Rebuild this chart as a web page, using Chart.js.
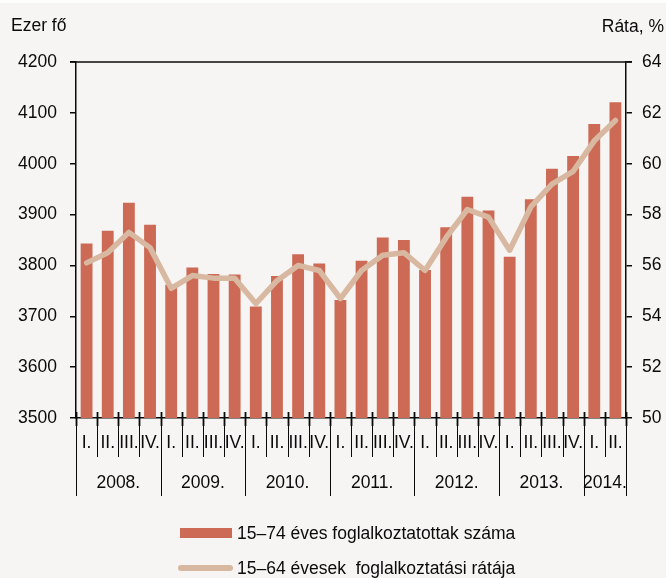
<!DOCTYPE html>
<html>
<head>
<meta charset="utf-8">
<script src="https://cdn.jsdelivr.net/npm/chart.js@4"></script>
<style>
  html, body { margin: 0; padding: 0; background: #f6f5f3; }
  #wrap { position: relative; width: 666px; height: 578px; overflow: hidden; }
  #topband { position: absolute; left: 0; top: 0; width: 666px; height: 3px; background: #fdfdfc; }
  canvas { position: absolute; left: 0; top: 0; }
  .leg { position: absolute; left: 178px; color: #0a0a0a; white-space: nowrap;
         font: 17.5px "Liberation Sans", Arial, sans-serif; }
  .leg .sw { position: absolute; left: 0; }
  .leg span.t { position: absolute; left: 59px; top: -12px; line-height: 24px; }
</style>
</head>
<body>
<div id="wrap">
  <div id="topband"></div>
  <canvas id="c" width="666" height="578"></canvas>
  <div class="leg" style="top:533px">
    <div class="sw" style="left:2px;top:-5px;width:52px;height:10px;background:#cc6a55"></div>
    <span class="t">15–74 éves foglalkoztatottak száma</span>
  </div>
  <div class="leg" style="top:568px">
    <div class="sw" style="left:0;top:-3px;width:55px;height:6px;border-radius:3px;background:#d8b8a0"></div>
    <span class="t">15–64 évesek&nbsp; foglalkoztatási rátája</span>
  </div>
</div>
<script>
// quarters 2008 I. – 2014 II.
const quarterLabels = [
  'I.','II.','III.','IV.', 'I.','II.','III.','IV.', 'I.','II.','III.','IV.',
  'I.','II.','III.','IV.', 'I.','II.','III.','IV.', 'I.','II.','III.','IV.',
  'I.','II.'
];
const years = ['2008.','2009.','2010.','2011.','2012.','2013.','2014.'];
const quartersPerYear = [4, 4, 4, 4, 4, 4, 2];

// 15–74 éves foglalkoztatottak száma (ezer fő)
const employed = [
  3843, 3868, 3923, 3880, 3762, 3796, 3783, 3782, 3719, 3779, 3822, 3804,
  3732, 3809, 3855, 3850, 3791, 3875, 3935, 3908, 3817, 3930, 3990, 4015,
  4078, 4121
];
// 15–64 évesek foglalkoztatási rátája (%)
const rate = [
  56.1, 56.5, 57.3, 56.7, 55.1, 55.6, 55.5, 55.5, 54.5, 55.4, 56.0, 55.8,
  54.7, 55.8, 56.4, 56.5, 55.8, 57.1, 58.2, 57.9, 56.6, 58.3, 59.2, 59.7,
  60.9, 61.7
];

const FONT = { family: '"Liberation Sans", Arial, sans-serif', size: 17.5 };
const INK = '#0a0a0a';

// extra drawing: frame top, category separators, year row, axis titles
const decorPlugin = {
  id: 'decor',
  afterDraw(chart) {
    const ctx = chart.ctx;
    const a = chart.chartArea;
    const x = chart.scales.x;
    const n = quarterLabels.length;
    const w = (a.right - a.left) / n;
    ctx.save();
    ctx.strokeStyle = INK;
    // top border
    ctx.lineWidth = 1.5;
    ctx.beginPath();
    ctx.moveTo(a.left - 6, a.top);
    ctx.lineTo(a.right + 6, a.top);
    ctx.stroke();

    // year boundaries
    const yearStart = new Set([0]);
    let acc = 0;
    quartersPerYear.forEach(q => { acc += q; yearStart.add(acc); });

    for (let i = 0; i <= n; i++) {
      const px = Math.round(a.left + i * w) + 0.5;
      ctx.lineWidth = 1.8;
      ctx.beginPath();
      ctx.moveTo(px, a.bottom - 6);
      ctx.lineTo(px, a.bottom + 8);
      ctx.stroke();
      ctx.lineWidth = 1;
      ctx.beginPath();
      ctx.moveTo(px, a.bottom + 8);
      ctx.lineTo(px, yearStart.has(i) ? a.bottom + 78 : a.bottom + 39);
      ctx.stroke();
    }

    // year labels
    ctx.fillStyle = INK;
    ctx.font = FONT.size + 'px ' + FONT.family;
    ctx.textAlign = 'center';
    ctx.textBaseline = 'middle';
    let start = 0;
    years.forEach((yr, k) => {
      const q = quartersPerYear[k];
      const cx = (x.getPixelForValue(start) + x.getPixelForValue(start + q - 1)) / 2;
      ctx.fillText(yr, cx, a.bottom + 65);
      start += q;
    });

    // axis titles
    ctx.textAlign = 'left';
    ctx.fillText('Ezer fő', 11, 26);
    ctx.textAlign = 'right';
    ctx.fillText('Ráta, %', 664, 27);
    ctx.restore();
  }
};

new Chart(document.getElementById('c'), {
  type: 'bar',
  data: {
    labels: quarterLabels,
    datasets: [
      {
        type: 'line',
        label: '15–64 évesek  foglalkoztatási rátája',
        data: rate,
        yAxisID: 'y1',
        borderColor: '#d8b8a0',
        borderWidth: 5.5,
        borderCapStyle: 'round',
        borderJoinStyle: 'round',
        tension: 0,
        pointRadius: 0,
        fill: false,
        order: 1
      },
      {
        type: 'bar',
        label: '15–74 éves foglalkoztatottak száma',
        data: employed,
        yAxisID: 'y',
        backgroundColor: '#cc6a55',
        borderWidth: 0,
        barPercentage: 0.56,
        categoryPercentage: 1,
        order: 2
      }
    ]
  },
  options: {
    responsive: false,
    animation: false,
    events: [],
    layout: { padding: { top: 62, bottom: 70, left: 0, right: 0 } },
    plugins: { legend: { display: false }, tooltip: { enabled: false } },
    scales: {
      x: {
        offset: true,
        afterFit(s) { s.height = 90; },
        grid: { display: false, drawTicks: false },
        border: { display: true, color: INK, width: 1.5 },
        ticks: { color: INK, font: FONT, padding: 15, maxRotation: 0, autoSkip: false }
      },
      y: {
        position: 'left',
        min: 3500, max: 4200,
        afterFit(s) { s.width = 76; },
        grid: { drawOnChartArea: false, drawTicks: true, tickLength: 6, color: INK, lineWidth: 1.5 },
        border: { display: true, color: INK, width: 1.5 },
        ticks: { stepSize: 100, color: INK, font: FONT, padding: 13, callback: v => String(v) }
      },
      y1: {
        position: 'right',
        min: 50, max: 64,
        afterFit(s) { s.width = 40; },
        grid: { drawOnChartArea: false, drawTicks: true, tickLength: 6, color: INK, lineWidth: 1.5 },
        border: { display: true, color: INK, width: 1.5 },
        ticks: { stepSize: 2, color: INK, font: FONT, padding: 10, callback: v => String(v) }
      }
    }
  },
  plugins: [decorPlugin]
});
</script>
</body>
</html>
